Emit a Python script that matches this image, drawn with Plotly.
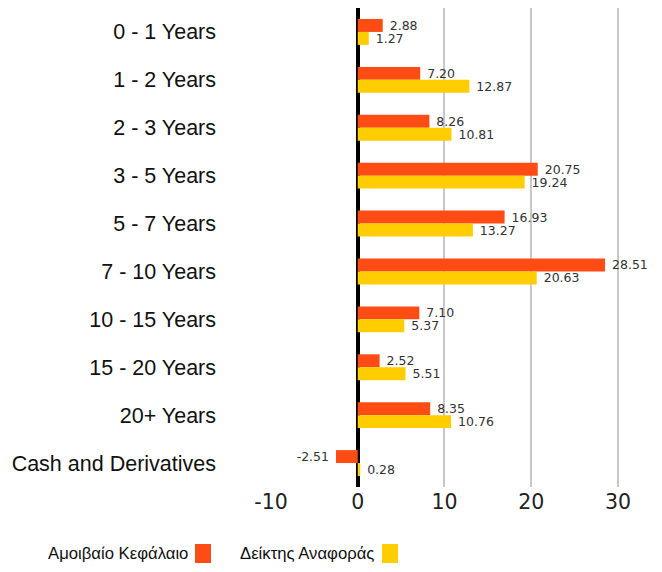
import plotly.graph_objects as go

categories = ["0 - 1 Years", "1 - 2 Years", "2 - 3 Years", "3 - 5 Years", "5 - 7 Years",
              "7 - 10 Years", "10 - 15 Years", "15 - 20 Years", "20+ Years", "Cash and Derivatives"]
fund = [2.88, 7.20, 8.26, 20.75, 16.93, 28.51, 7.10, 2.52, 8.35, -2.51]
index = [1.27, 12.87, 10.81, 19.24, 13.27, 20.63, 5.37, 5.51, 10.76, 0.28]
series_names = ["Αμοιβαίο Κεφάλαιο", "Δείκτης Αναφοράς"]
colors = ["#FF4B14", "#FFCD00"]
x_ticks = [-10, 0, 10, 20, 30]
x_ticktext = ["-10", "0", "10", "20", "30"]
grid_ticks = [10, 20, 30]
x_range = [-10, 33]


def labels(vals):
    return [" %.2f" % v if v >= 0 else "%.2f " % v for v in vals]


fig = go.Figure()
for name, vals, col in zip(series_names, [fund, index], colors):
    fig.add_trace(go.Bar(
        y=categories, x=vals, orientation="h", name=name,
        marker=dict(color=col, line=dict(width=0)),
        text=labels(vals), textposition="outside", constraintext="none",
        cliponaxis=False,
        textfont=dict(family="DejaVu Sans", size=12.5, color="#333333"),
        showlegend=False,
    ))

fig.update_layout(
    width=654, height=564,
    margin=dict(l=263, r=18, t=0, b=85),
    paper_bgcolor="white", plot_bgcolor="white",
    barmode="group", bargap=0.46, bargroupgap=0,
    xaxis=dict(range=x_range, tickmode="array", tickvals=x_ticks, ticktext=x_ticktext,
               showgrid=False, zeroline=True, zerolinecolor="black", zerolinewidth=4,
               showline=False, ticks="",
               tickfont=dict(family="DejaVu Sans", size=20.5, color="#222222")),
    xaxis2=dict(range=x_range, overlaying="x", side="bottom", tickmode="array",
                tickvals=grid_ticks, showgrid=True, gridcolor="#C8C8C8", gridwidth=2,
                showticklabels=False, zeroline=False, ticks="", layer="below traces"),
    yaxis=dict(autorange="reversed", showgrid=False, zeroline=False, ticks="",
               ticklabelstandoff=54,
               tickfont=dict(family="Liberation Sans", size=21.5, color="#111111")),
)

# invisible helper trace so the grid axis is drawn
fig.add_trace(go.Scatter(x=[None], y=[None], xaxis="x2", yaxis="y", showlegend=False,
                         hoverinfo="skip", mode="markers"))

# legend: text followed by a colour square
leg_text_x = [-0.6005, -0.0858]
leg_sq_x = [(-0.2038, -0.1609), (0.2976, 0.3405)]
for name, col, tx, (s0, s1) in zip(series_names, colors, leg_text_x, leg_sq_x):
    fig.add_annotation(xref="paper", yref="paper", x=tx, y=-0.1378, xanchor="left",
                       yanchor="middle", text=name, showarrow=False, borderpad=0,
                       font=dict(family="Liberation Sans", size=16.7, color="#111111"))
    fig.add_shape(type="rect", xref="paper", yref="paper", x0=s0, x1=s1,
                  y0=-0.119, y1=-0.1587, fillcolor=col, line=dict(width=0))

fig.write_html("out.html")
